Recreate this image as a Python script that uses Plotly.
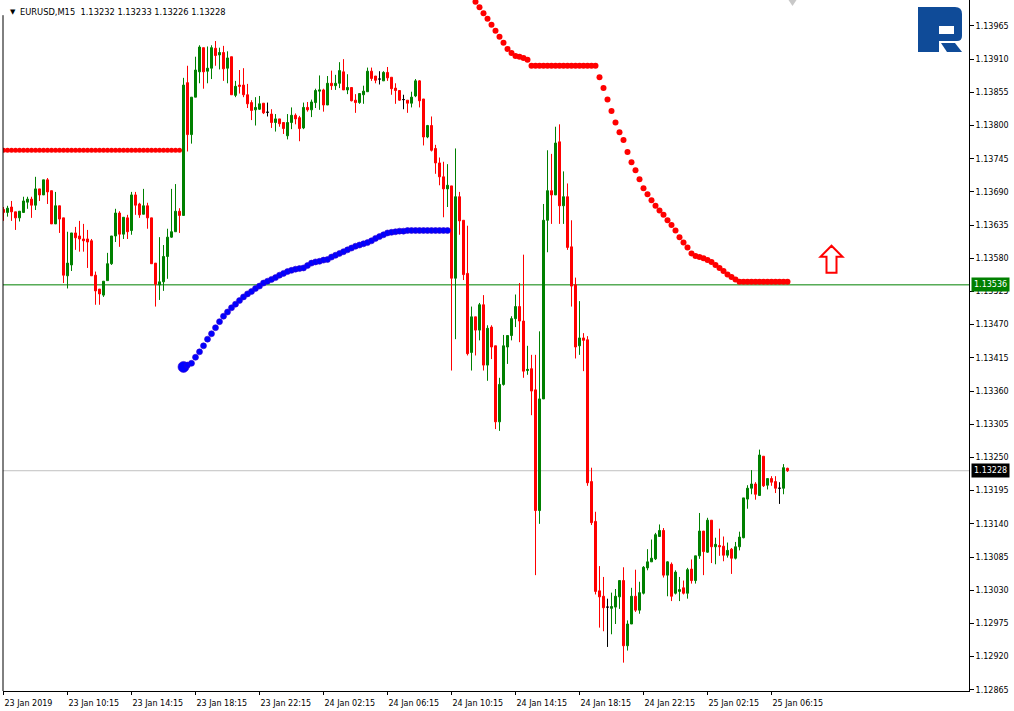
import plotly.graph_objects as go

# EURUSD M15, 23 Jan 2019 06:15 onward, one entry per bar
opens = [
    1.13661, 1.13656, 1.13665, 1.13657, 1.13647, 1.13656, 1.13673, 1.13678, 1.13668, 1.13695,
    1.13685, 1.13710, 1.13692, 1.13637, 1.13667, 1.13647, 1.13551, 1.13569, 1.13622, 1.13617,
    1.13612, 1.13612, 1.13609, 1.13552, 1.13529, 1.13519, 1.13543, 1.13571, 1.13617, 1.13655,
    1.13620, 1.13647, 1.13626, 1.13685, 1.13670, 1.13653, 1.13667, 1.13647, 1.13572, 1.13536,
    1.13541, 1.13583, 1.13615, 1.13624, 1.13658, 1.13651, 1.13871, 1.13785, 1.13847, 1.13889,
    1.13929, 1.13890, 1.13895, 1.13928, 1.13917, 1.13921, 1.13895, 1.13914, 1.13850, 1.13867,
    1.13867, 1.13851, 1.13838, 1.13826, 1.13827, 1.13837, 1.13822, 1.13819, 1.13805, 1.13811,
    1.13805, 1.13783, 1.13805, 1.13817, 1.13813, 1.13796, 1.13830, 1.13826, 1.13838, 1.13857,
    1.13859, 1.13834, 1.13870, 1.13866, 1.13870, 1.13889, 1.13859, 1.13863, 1.13842, 1.13838,
    1.13851, 1.13856, 1.13890, 1.13882, 1.13877, 1.13874, 1.13888, 1.13880, 1.13862, 1.13858,
    1.13843, 1.13842, 1.13837, 1.13849, 1.13874, 1.13844, 1.13781, 1.13800, 1.13762, 1.13738,
    1.13715, 1.13695, 1.13700, 1.13547, 1.13682, 1.13643, 1.13555, 1.13424, 1.13483, 1.13461,
    1.13503, 1.13403, 1.13466, 1.13435, 1.13309, 1.13371, 1.13433, 1.13452, 1.13480, 1.13500,
    1.13476, 1.13394, 1.13397, 1.13362, 1.13162, 1.13347, 1.13643, 1.13692, 1.13685, 1.13773,
    1.13667, 1.13682, 1.13599, 1.13536, 1.13435, 1.13448, 1.13445, 1.13210, 1.13144, 1.13029,
    1.13020, 1.13002, 1.13000, 1.13002, 1.13019, 1.13046, 1.12938, 1.12974, 1.13020, 1.12997,
    1.13025, 1.13067, 1.13077, 1.13082, 1.13119, 1.13129, 1.13055, 1.13073, 1.13025, 1.13028,
    1.13034, 1.13025, 1.13065, 1.13046, 1.13087, 1.13128, 1.13093, 1.13146, 1.13102, 1.13104,
    1.13103, 1.13088, 1.13098, 1.13083, 1.13102, 1.13117, 1.13181, 1.13199, 1.13206, 1.13187,
    1.13252, 1.13204, 1.13215, 1.13210, 1.13199, 1.13199, 1.13232,
]
highs = [
    1.13665, 1.13667, 1.13675, 1.13657, 1.13658, 1.13682, 1.13682, 1.13682, 1.13715, 1.13695,
    1.13710, 1.13713, 1.13692, 1.13690, 1.13667, 1.13647, 1.13624, 1.13622, 1.13632, 1.13642,
    1.13637, 1.13627, 1.13612, 1.13558, 1.13529, 1.13542, 1.13589, 1.13617, 1.13662, 1.13658,
    1.13648, 1.13652, 1.13690, 1.13690, 1.13672, 1.13695, 1.13672, 1.13647, 1.13572, 1.13615,
    1.13602, 1.13629, 1.13695, 1.13703, 1.13663, 1.13879, 1.13899, 1.13847, 1.13914, 1.13933,
    1.13929, 1.13931, 1.13933, 1.13940, 1.13929, 1.13932, 1.13923, 1.13914, 1.13874, 1.13892,
    1.13895, 1.13869, 1.13842, 1.13847, 1.13849, 1.13837, 1.13838, 1.13827, 1.13819, 1.13811,
    1.13805, 1.13819, 1.13830, 1.13820, 1.13816, 1.13838, 1.13839, 1.13843, 1.13861, 1.13883,
    1.13861, 1.13882, 1.13891, 1.13884, 1.13905, 1.13910, 1.13885, 1.13863, 1.13852, 1.13853,
    1.13866, 1.13896, 1.13896, 1.13882, 1.13890, 1.13890, 1.13897, 1.13880, 1.13870, 1.13858,
    1.13851, 1.13842, 1.13856, 1.13877, 1.13875, 1.13844, 1.13801, 1.13815, 1.13768, 1.13747,
    1.13740, 1.13736, 1.13700, 1.13762, 1.13690, 1.13643, 1.13634, 1.13500, 1.13483, 1.13506,
    1.13519, 1.13469, 1.13469, 1.13435, 1.13382, 1.13453, 1.13452, 1.13484, 1.13520, 1.13539,
    1.13586, 1.13435, 1.13420, 1.13420, 1.13459, 1.13670, 1.13759, 1.13753, 1.13798, 1.13802,
    1.13724, 1.13704, 1.13643, 1.13548, 1.13509, 1.13456, 1.13451, 1.13233, 1.13160, 1.13070,
    1.13052, 1.13016, 1.13026, 1.13032, 1.13046, 1.13068, 1.12980, 1.13034, 1.13064, 1.13044,
    1.13070, 1.13098, 1.13114, 1.13125, 1.13139, 1.13133, 1.13078, 1.13076, 1.13063, 1.13052,
    1.13046, 1.13067, 1.13081, 1.13087, 1.13158, 1.13128, 1.13150, 1.13146, 1.13117, 1.13132,
    1.13119, 1.13109, 1.13100, 1.13110, 1.13127, 1.13183, 1.13204, 1.13229, 1.13209, 1.13263,
    1.13252, 1.13215, 1.13219, 1.13219, 1.13209, 1.13239, 1.13233,
]
lows = [
    1.13642, 1.13649, 1.13642, 1.13627, 1.13641, 1.13655, 1.13662, 1.13647, 1.13660, 1.13675,
    1.13685, 1.13670, 1.13637, 1.13637, 1.13622, 1.13539, 1.13530, 1.13559, 1.13594, 1.13591,
    1.13591, 1.13564, 1.13551, 1.13503, 1.13503, 1.13516, 1.13543, 1.13569, 1.13607, 1.13599,
    1.13612, 1.13612, 1.13619, 1.13652, 1.13647, 1.13653, 1.13629, 1.13571, 1.13500, 1.13511,
    1.13526, 1.13546, 1.13614, 1.13624, 1.13622, 1.13651, 1.13757, 1.13770, 1.13847, 1.13870,
    1.13861, 1.13870, 1.13877, 1.13899, 1.13893, 1.13874, 1.13870, 1.13851, 1.13847, 1.13853,
    1.13847, 1.13829, 1.13809, 1.13800, 1.13826, 1.13819, 1.13815, 1.13796, 1.13790, 1.13798,
    1.13786, 1.13777, 1.13794, 1.13802, 1.13774, 1.13794, 1.13823, 1.13814, 1.13829, 1.13826,
    1.13823, 1.13834, 1.13859, 1.13859, 1.13862, 1.13859, 1.13852, 1.13840, 1.13821, 1.13836,
    1.13836, 1.13856, 1.13874, 1.13870, 1.13868, 1.13874, 1.13874, 1.13851, 1.13836, 1.13841,
    1.13827, 1.13821, 1.13830, 1.13847, 1.13830, 1.13767, 1.13779, 1.13757, 1.13720, 1.13701,
    1.13648, 1.13665, 1.13394, 1.13446, 1.13619, 1.13544, 1.13419, 1.13394, 1.13419, 1.13444,
    1.13394, 1.13377, 1.13413, 1.13297, 1.13294, 1.13369, 1.13405, 1.13444, 1.13466, 1.13441,
    1.13382, 1.13387, 1.13320, 1.13055, 1.13140, 1.13347, 1.13590, 1.13637, 1.13685, 1.13637,
    1.13637, 1.13594, 1.13500, 1.13414, 1.13420, 1.13393, 1.13203, 1.13138, 1.13023, 1.12968,
    1.12962, 1.12936, 1.12957, 1.12974, 1.12999, 1.12910, 1.12930, 1.12974, 1.12994, 1.12991,
    1.13023, 1.13063, 1.13077, 1.13080, 1.13119, 1.13051, 1.13020, 1.13012, 1.13023, 1.13012,
    1.13023, 1.13016, 1.13041, 1.13041, 1.13082, 1.13055, 1.13092, 1.13075, 1.13073, 1.13087,
    1.13078, 1.13084, 1.13057, 1.13081, 1.13096, 1.13116, 1.13165, 1.13189, 1.13180, 1.13187,
    1.13201, 1.13197, 1.13203, 1.13191, 1.13173, 1.13189, 1.13226,
]
closes = [
    1.13656, 1.13663, 1.13657, 1.13647, 1.13658, 1.13675, 1.13678, 1.13668, 1.13695, 1.13685,
    1.13710, 1.13690, 1.13637, 1.13667, 1.13645, 1.13552, 1.13572, 1.13622, 1.13614, 1.13612,
    1.13609, 1.13607, 1.13551, 1.13526, 1.13521, 1.13542, 1.13571, 1.13617, 1.13655, 1.13620,
    1.13648, 1.13624, 1.13685, 1.13668, 1.13652, 1.13667, 1.13647, 1.13571, 1.13537, 1.13541,
    1.13583, 1.13615, 1.13624, 1.13658, 1.13651, 1.13867, 1.13785, 1.13847, 1.13892, 1.13930,
    1.13889, 1.13895, 1.13929, 1.13916, 1.13921, 1.13894, 1.13912, 1.13851, 1.13865, 1.13865,
    1.13851, 1.13836, 1.13825, 1.13830, 1.13836, 1.13821, 1.13822, 1.13805, 1.13811, 1.13803,
    1.13795, 1.13805, 1.13817, 1.13811, 1.13795, 1.13830, 1.13826, 1.13839, 1.13858, 1.13859,
    1.13834, 1.13870, 1.13866, 1.13870, 1.13891, 1.13859, 1.13863, 1.13841, 1.13838, 1.13853,
    1.13857, 1.13890, 1.13878, 1.13875, 1.13877, 1.13888, 1.13879, 1.13861, 1.13858, 1.13842,
    1.13843, 1.13837, 1.13847, 1.13874, 1.13841, 1.13781, 1.13800, 1.13759, 1.13738, 1.13715,
    1.13695, 1.13701, 1.13547, 1.13682, 1.13642, 1.13553, 1.13422, 1.13483, 1.13461, 1.13503,
    1.13403, 1.13464, 1.13433, 1.13309, 1.13371, 1.13435, 1.13452, 1.13480, 1.13500, 1.13476,
    1.13393, 1.13396, 1.13360, 1.13162, 1.13347, 1.13643, 1.13692, 1.13685, 1.13771, 1.13667,
    1.13682, 1.13598, 1.13534, 1.13433, 1.13448, 1.13444, 1.13208, 1.13142, 1.13028, 1.13019,
    1.13001, 1.13002, 1.13003, 1.13020, 1.13046, 1.12938, 1.12974, 1.13020, 1.12997, 1.13026,
    1.13068, 1.13077, 1.13083, 1.13122, 1.13129, 1.13055, 1.13077, 1.13020, 1.13060, 1.13031,
    1.13025, 1.13064, 1.13046, 1.13087, 1.13128, 1.13094, 1.13146, 1.13102, 1.13106, 1.13102,
    1.13088, 1.13096, 1.13083, 1.13102, 1.13118, 1.13183, 1.13199, 1.13206, 1.13189, 1.13254,
    1.13203, 1.13215, 1.13209, 1.13199, 1.13199, 1.13233, 1.13228,
]

# stop levels (dots), first bar index of each run
stop_red_left_start = 0
stop_red_left = [
    1.13759, 1.13759, 1.13759, 1.13759, 1.13759, 1.13759, 1.13759, 1.13759, 1.13759, 1.13759,
    1.13759, 1.13759, 1.13759, 1.13759, 1.13759, 1.13759, 1.13759, 1.13759, 1.13759, 1.13759,
    1.13759, 1.13759, 1.13759, 1.13759, 1.13759, 1.13759, 1.13759, 1.13759, 1.13759, 1.13759,
    1.13759, 1.13759, 1.13759, 1.13759, 1.13759, 1.13759, 1.13759, 1.13759, 1.13759, 1.13759,
    1.13759, 1.13759, 1.13759, 1.13759, 1.13759,
]
stop_blue_start = 45
stop_blue = [
    1.13400, 1.13403, 1.13406, 1.13416, 1.13425, 1.13435, 1.13446, 1.13455, 1.13465, 1.13475,
    1.13484, 1.13491, 1.13498, 1.13504, 1.13510, 1.13516, 1.13521, 1.13525, 1.13530, 1.13534,
    1.13539, 1.13542, 1.13545, 1.13548, 1.13552, 1.13555, 1.13558, 1.13560, 1.13562, 1.13563,
    1.13564, 1.13568, 1.13572, 1.13574, 1.13575, 1.13577, 1.13578, 1.13582, 1.13585, 1.13588,
    1.13591, 1.13594, 1.13597, 1.13600, 1.13602, 1.13604, 1.13606, 1.13609, 1.13613, 1.13616,
    1.13619, 1.13622, 1.13623, 1.13624, 1.13625, 1.13625, 1.13626, 1.13626, 1.13626, 1.13626,
    1.13626, 1.13626, 1.13626, 1.13626, 1.13626, 1.13626, 1.13626,
]
stop_red_right_start = 118
stop_red_right = [
    1.14005, 1.13996, 1.13986, 1.13977, 1.13967, 1.13957, 1.13947, 1.13937, 1.13927, 1.13920,
    1.13915, 1.13914, 1.13912, 1.13909, 1.13899, 1.13899, 1.13899, 1.13899, 1.13899, 1.13899,
    1.13899, 1.13899, 1.13899, 1.13899, 1.13899, 1.13899, 1.13899, 1.13899, 1.13899, 1.13899,
    1.13899, 1.13880, 1.13862, 1.13843, 1.13824, 1.13805, 1.13789, 1.13776, 1.13756, 1.13739,
    1.13726, 1.13711, 1.13696, 1.13686, 1.13676, 1.13667, 1.13659, 1.13652, 1.13643, 1.13635,
    1.13626, 1.13615, 1.13606, 1.13598, 1.13588, 1.13584, 1.13582, 1.13580, 1.13577, 1.13574,
    1.13569, 1.13564, 1.13559, 1.13553, 1.13549, 1.13545, 1.13541, 1.13541, 1.13541, 1.13541,
    1.13541, 1.13541, 1.13541, 1.13541, 1.13541, 1.13541, 1.13541, 1.13541, 1.13541,
]

level_price = 1.13536
bid_price = 1.13228
arrow_bar = 207
arrow_price = 1.13556

time_ticks = [0, 16, 32, 48, 64, 80, 96, 112, 128, 144, 160, 176, 192]
time_labels = ["23 Jan 2019", "23 Jan 10:15", "23 Jan 14:15", "23 Jan 18:15",
               "23 Jan 22:15", "24 Jan 02:15", "24 Jan 06:15", "24 Jan 10:15",
               "24 Jan 14:15", "24 Jan 18:15", "24 Jan 22:15", "25 Jan 02:15",
               "25 Jan 06:15"]
price_ticks = [1.12865, 1.12920, 1.12975, 1.13030, 1.13085, 1.13140, 1.13195,
               1.13250, 1.13305, 1.13360, 1.13415, 1.13470, 1.13525, 1.13580,
               1.13635, 1.13690, 1.13745, 1.13800, 1.13855, 1.13910, 1.13965]

FONT = "Tahoma, DejaVu Sans, sans-serif"
GREEN = "#008000"
RED = "#ff0000"

bars = list(range(len(closes)))
up = [i for i in bars if closes[i] > opens[i]]
down = [i for i in bars if closes[i] < opens[i]]
doji = [i for i in bars if closes[i] == opens[i]]


def candles(idx, colour):
    return go.Candlestick(
        x=idx,
        open=[opens[i] for i in idx],
        high=[highs[i] for i in idx],
        low=[lows[i] for i in idx],
        close=[closes[i] for i in idx],
        increasing=dict(line=dict(color=colour, width=1), fillcolor=colour),
        decreasing=dict(line=dict(color=colour, width=1), fillcolor=colour),
        whiskerwidth=0,
        hoverinfo="skip",
        showlegend=False,
    )


fig = go.Figure()

fig.add_trace(candles(up, GREEN))
fig.add_trace(candles(down, RED))
fig.add_trace(candles(doji, "#000000"))

fig.add_trace(go.Scatter(
    x=list(range(stop_red_left_start, stop_red_left_start + len(stop_red_left))),
    y=stop_red_left, mode="markers",
    marker=dict(color=RED, size=5, line=dict(width=0)),
    hoverinfo="skip", showlegend=False))

blue_sizes = [11] + [6] * (len(stop_blue) - 1)
fig.add_trace(go.Scatter(
    x=list(range(stop_blue_start, stop_blue_start + len(stop_blue))),
    y=stop_blue, mode="markers",
    marker=dict(color="#0000ff", size=blue_sizes, opacity=1,
                line=dict(width=0.6, color="#3000d0")),
    hoverinfo="skip", showlegend=False))

fig.add_trace(go.Scatter(
    x=list(range(stop_red_right_start, stop_red_right_start + len(stop_red_right))),
    y=stop_red_right, mode="markers",
    marker=dict(color=RED, size=6, line=dict(width=0)),
    hoverinfo="skip", showlegend=False))

shapes = [
    # horizontal price lines
    dict(type="line", xref="paper", yref="y", x0=0, x1=1, y0=level_price, y1=level_price,
         line=dict(color=GREEN, width=1), layer="below"),
    dict(type="line", xref="paper", yref="y", x0=0, x1=1, y0=bid_price, y1=bid_price,
         line=dict(color="#c0c0c0", width=1), layer="below"),
    # left border of the chart window
    dict(type="line", xref="paper", yref="paper", x0=0, x1=0, y0=0, y1=0.978,
         line=dict(color="#000000", width=1)),
    # up-arrow object
    dict(type="path", xref="x", yref="y", xsizemode="pixel", ysizemode="pixel",
         xanchor=arrow_bar, yanchor=arrow_price,
         path="M -5,0 L 5,0 L 5,16 L 11,16 L 0,27 L -11,16 L -5,16 Z",
         line=dict(color=RED, width=2), fillcolor="#ffffff", layer="above"),
    # chart shift marker
    dict(type="path", xref="x", yref="paper", xsizemode="pixel", ysizemode="pixel",
         xanchor=197.25, yanchor=1, path="M -4,0 L 4,0 L 0,-6 Z",
         line=dict(width=0), fillcolor="#c8c8c8"),
    # logo
    dict(type="path", xref="paper", yref="paper", xsizemode="pixel", ysizemode="pixel",
         xanchor=1, yanchor=1, fillrule="evenodd",
         path=("M -51,-7 L -14,-7 Q -7,-7 -7,-14 L -7,-36 Q -7,-41 -12,-41 "
               "L -30,-41 L -30,-52 L -51,-52 Z "
               "M -30,-26 L -15,-26 L -15,-34 L -30,-34 Z"),
         line=dict(width=0), fillcolor="#0f4b98"),
    dict(type="path", xref="paper", yref="paper", xsizemode="pixel", ysizemode="pixel",
         xanchor=1, yanchor=1,
         path="M -28,-43 L -14,-43 L -7,-52 L -22,-52 Z",
         line=dict(width=0), fillcolor="#0f4b98"),
]

annotations = [
    dict(xref="paper", yref="paper", x=0, y=1, xanchor="left", yanchor="top",
         xshift=5, yshift=-6, text="\u25bc", showarrow=False,
         font=dict(family=FONT, size=7, color="#000000")),
    dict(xref="paper", yref="paper", x=0, y=1, xanchor="left", yanchor="top",
         xshift=15, yshift=-5,
         text="EURUSD,M15\u00a0\u00a01.13232 1.13233 1.13226 1.13228",
         showarrow=False, font=dict(family=FONT, size=8.3, color="#000000")),
    dict(xref="paper", yref="y", x=1, y=level_price, xanchor="left", yanchor="middle",
         xshift=2, text="1.13536", showarrow=False, bgcolor=GREEN, borderpad=2,
         font=dict(family=FONT, size=8, color="#ffffff")),
    dict(xref="paper", yref="y", x=1, y=bid_price, xanchor="left", yanchor="middle",
         xshift=2, text="1.13228", showarrow=False, bgcolor="#000000", borderpad=2,
         font=dict(family=FONT, size=8, color="#ffffff")),
]

fig.update_layout(
    width=1014, height=711,
    margin=dict(l=3, r=45, t=0, b=20),
    paper_bgcolor="#ffffff", plot_bgcolor="#ffffff",
    showlegend=False, hovermode=False,
    boxgap=0.5, boxgroupgap=0,
    shapes=shapes, annotations=annotations,
    font=dict(family=FONT, size=8, color="#000000"),
    xaxis=dict(
        range=[-0.125, 241.375], rangeslider=dict(visible=False),
        tickvals=time_ticks, ticktext=time_labels,
        ticklabelposition="outside right", ticklabelstandoff=4,
        ticks="outside", ticklen=3, tickcolor="#000000",
        showline=True, linecolor="#000000", linewidth=1,
        showgrid=False, zeroline=False,
        tickfont=dict(family=FONT, size=8, color="#000000"),
    ),
    yaxis=dict(
        side="right", range=[1.12863, 1.14008],
        tickvals=price_ticks, ticktext=["%.5f" % p for p in price_ticks],
        ticks="outside", ticklen=4, tickcolor="#000000",
        showline=True, linecolor="#000000", linewidth=1,
        showgrid=False, zeroline=False,
        tickfont=dict(family=FONT, size=8, color="#000000"),
    ),
)

fig.write_html("out.html", config=dict(displayModeBar=False),
               post_script="document.body.style.margin='0';")
